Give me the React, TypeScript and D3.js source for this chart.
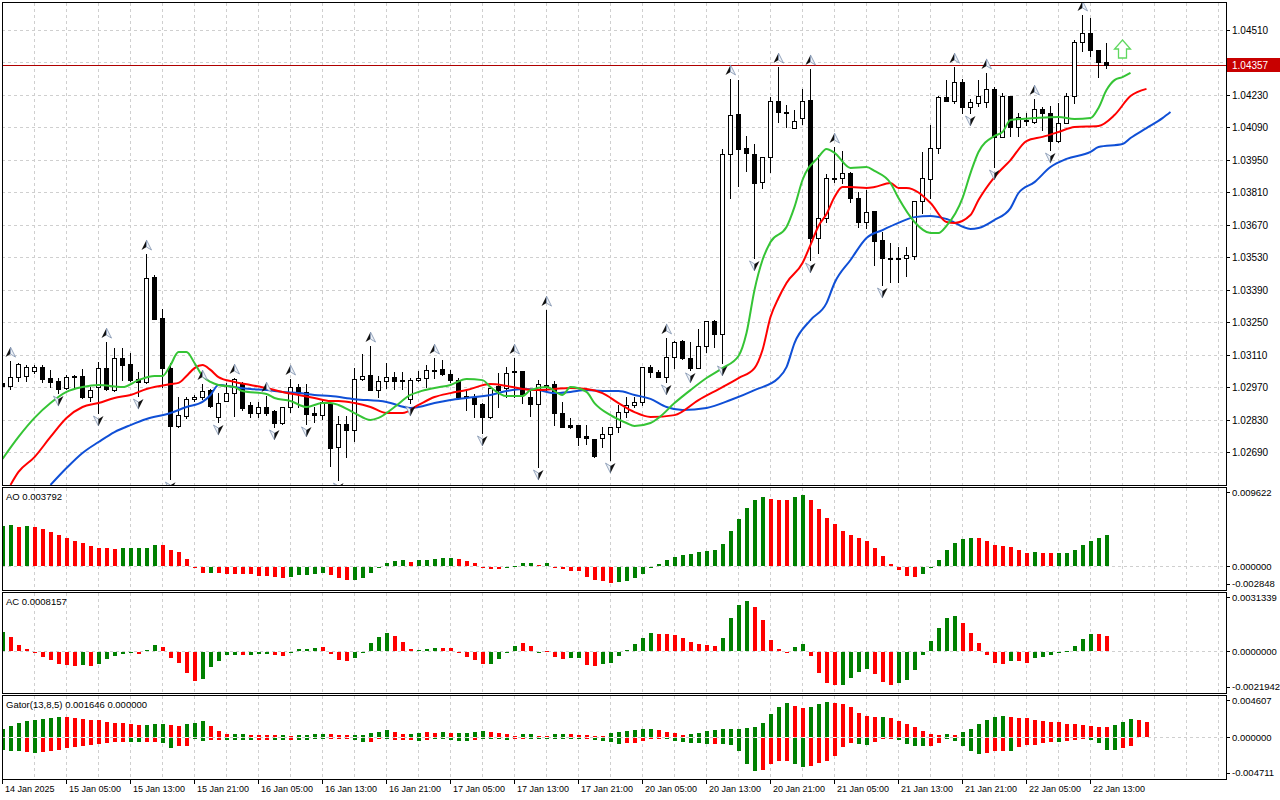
import React, { useEffect, useRef } from 'react';
import * as d3 from 'd3';

// H1 candles, bar 0 = 14 Jan 2025 21:00
const opens = [
  1.02988, 1.02975, 1.03013, 1.03018, 1.03039, 1.03056, 1.03009, 1.02996, 1.02966, 1.03013,
  1.03018, 1.02927, 1.02970, 1.03052, 1.02957, 1.03095, 1.03069, 1.03005, 1.02992, 1.03445,
  1.03268, 1.03052, 1.02802, 1.02845, 1.02919, 1.02927, 1.02957, 1.02841, 1.02910, 1.02944,
  1.02983, 1.02893, 1.02858, 1.02884, 1.02867, 1.02815, 1.02884, 1.02970, 1.02949, 1.02858,
  1.02849, 1.02901, 1.02711, 1.02811, 1.02785, 1.03005, 1.03022, 1.02957, 1.02996, 1.03013,
  1.03000, 1.02919, 1.03000, 1.03009, 1.03044, 1.03048, 1.03026, 1.03000, 1.02931, 1.02927,
  1.02897, 1.02841, 1.02975, 1.02966, 1.03039, 1.03039, 1.02927, 1.02897, 1.02975, 1.02983,
  1.02858, 1.02806, 1.02806, 1.02759, 1.02746, 1.02750, 1.02768, 1.02798, 1.02862, 1.02893,
  1.02906, 1.03056, 1.03035, 1.03013, 1.03100, 1.03169, 1.03095, 1.03052, 1.03147, 1.03255,
  1.03199, 1.03975, 1.04148, 1.04001, 1.03975, 1.03854, 1.03962, 1.04204, 1.04156, 1.04087,
  1.04130, 1.04208, 1.03613, 1.03699, 1.03872, 1.03872, 1.03893, 1.03785, 1.03682, 1.03729,
  1.03604, 1.03527, 1.03527, 1.03527, 1.03535, 1.03772, 1.03867, 1.04001, 1.04221, 1.04204,
  1.04286, 1.04178, 1.04195, 1.04200, 1.04256, 1.04049, 1.04225, 1.04092, 1.04118, 1.04113,
  1.04169, 1.04152, 1.04031, 1.04109, 1.04225, 1.04458, 1.04497, 1.04424, 1.04372,
];
const highs = [
  1.02996, 1.03082, 1.03074, 1.03065, 1.03065, 1.03065, 1.03044, 1.03009, 1.03022, 1.03022,
  1.03048, 1.02970, 1.03078, 1.03164, 1.03138, 1.03138, 1.03117, 1.03035, 1.03544, 1.03453,
  1.03307, 1.03074, 1.02927, 1.02927, 1.02936, 1.02983, 1.02962, 1.02944, 1.02988, 1.03009,
  1.02992, 1.02906, 1.02906, 1.02931, 1.02871, 1.02884, 1.03005, 1.02983, 1.02983, 1.02884,
  1.02914, 1.02906, 1.02845, 1.02845, 1.03052, 1.03113, 1.03147, 1.03018, 1.03074, 1.03035,
  1.03035, 1.03009, 1.03039, 1.03065, 1.03095, 1.03087, 1.03044, 1.03009, 1.02957, 1.02940,
  1.02901, 1.02966, 1.03031, 1.03056, 1.03095, 1.03039, 1.02957, 1.03000, 1.03302, 1.02996,
  1.02906, 1.02837, 1.02806, 1.02806, 1.02746, 1.02798, 1.02798, 1.02893, 1.02927, 1.02927,
  1.03056, 1.03065, 1.03044, 1.03182, 1.03169, 1.03173, 1.03164, 1.03220, 1.03255, 1.03259,
  1.03997, 1.04299, 1.04294, 1.04053, 1.04018, 1.03962, 1.04221, 1.04350, 1.04187, 1.04165,
  1.04256, 1.04342, 1.03971, 1.03889, 1.04005, 1.03988, 1.03898, 1.03811, 1.03820, 1.03729,
  1.03639, 1.03591, 1.03574, 1.03574, 1.03772, 1.03984, 1.04100, 1.04225, 1.04294, 1.04350,
  1.04299, 1.04212, 1.04294, 1.04325, 1.04264, 1.04238, 1.04225, 1.04152, 1.04152, 1.04212,
  1.04178, 1.04182, 1.04195, 1.04238, 1.04467, 1.04575, 1.04562, 1.04424, 1.04454,
];
const lows = [
  1.02966, 1.02962, 1.02996, 1.02996, 1.03031, 1.02992, 1.02970, 1.02944, 1.02962, 1.02970,
  1.02923, 1.02910, 1.02858, 1.02957, 1.02953, 1.03000, 1.02996, 1.02931, 1.02988, 1.03264,
  1.02970, 1.02573, 1.02798, 1.02837, 1.02910, 1.02919, 1.02884, 1.02819, 1.02910, 1.02845,
  1.02871, 1.02841, 1.02841, 1.02849, 1.02798, 1.02811, 1.02862, 1.02884, 1.02811, 1.02819,
  1.02832, 1.02630, 1.02569, 1.02668, 1.02737, 1.03000, 1.02957, 1.02927, 1.02966, 1.02962,
  1.02962, 1.02901, 1.02996, 1.02970, 1.03009, 1.03022, 1.02992, 1.02923, 1.02871, 1.02841,
  1.02772, 1.02837, 1.02884, 1.02927, 1.02927, 1.02901, 1.02845, 1.02625, 1.02957, 1.02806,
  1.02798, 1.02793, 1.02720, 1.02724, 1.02668, 1.02711, 1.02655, 1.02776, 1.02841, 1.02884,
  1.02893, 1.03013, 1.03013, 1.02992, 1.03052, 1.03091, 1.03044, 1.03052, 1.03121, 1.03143,
  1.03074, 1.03785, 1.03837, 1.03902, 1.03527, 1.03829, 1.03898, 1.04113, 1.04092, 1.04087,
  1.04105, 1.03518, 1.03548, 1.03682, 1.03854, 1.03850, 1.03768, 1.03661, 1.03656, 1.03496,
  1.03410, 1.03423, 1.03423, 1.03449, 1.03522, 1.03721, 1.03785, 1.03980, 1.04204, 1.04195,
  1.04152, 1.04152, 1.04182, 1.04178, 1.03919, 1.04049, 1.04053, 1.04053, 1.04100, 1.04109,
  1.04079, 1.03992, 1.04027, 1.04109, 1.04195, 1.04419, 1.04398, 1.04307, 1.04346,
];
const closes = [
  1.02975, 1.03013, 1.03069, 1.03056, 1.03056, 1.03005, 1.02992, 1.02962, 1.03013, 1.03018,
  1.02927, 1.02957, 1.03052, 1.02962, 1.03095, 1.03065, 1.03000, 1.02992, 1.03440, 1.03264,
  1.03052, 1.02802, 1.02849, 1.02919, 1.02927, 1.02953, 1.02888, 1.02901, 1.02944, 1.03005,
  1.02880, 1.02858, 1.02884, 1.02858, 1.02815, 1.02884, 1.02970, 1.02949, 1.02854, 1.02849,
  1.02906, 1.02707, 1.02811, 1.02785, 1.03005, 1.03018, 1.02957, 1.02996, 1.03013, 1.02996,
  1.02998, 1.03000, 1.03009, 1.03044, 1.03041, 1.03026, 1.03000, 1.02927, 1.02927, 1.02897,
  1.02841, 1.02966, 1.02957, 1.03031, 1.03035, 1.02940, 1.02897, 1.02983, 1.02979, 1.02858,
  1.02798, 1.02798, 1.02755, 1.02750, 1.02673, 1.02768, 1.02798, 1.02862, 1.02893, 1.02906,
  1.03056, 1.03035, 1.03013, 1.03100, 1.03164, 1.03095, 1.03052, 1.03147, 1.03255, 1.03199,
  1.03975, 1.04143, 1.03997, 1.03980, 1.03850, 1.03962, 1.04204, 1.04156, 1.04154, 1.04118,
  1.04204, 1.03613, 1.03699, 1.03872, 1.03867, 1.03893, 1.03785, 1.03682, 1.03725, 1.03600,
  1.03527, 1.03522, 1.03522, 1.03540, 1.03772, 1.03872, 1.04001, 1.04221, 1.04204, 1.04286,
  1.04178, 1.04200, 1.04225, 1.04256, 1.04049, 1.04225, 1.04092, 1.04135, 1.04122, 1.04169,
  1.04152, 1.04031, 1.04109, 1.04225, 1.04458, 1.04497, 1.04424, 1.04372, 1.04357,
];

// Alligator lines, [bar, price] (shifted forward past the last bar)
const jaw: [number, number][] = [
  [6, 1.02548], [8, 1.02621], [10, 1.02686], [12, 1.02733], [14, 1.02776], [16, 1.02806], [18, 1.02832],
  [21, 1.02858], [23, 1.02884], [25, 1.02906], [26, 1.02936], [27, 1.02979], [29, 1.02970], [31, 1.02962],
  [33, 1.02957], [35, 1.02949], [37, 1.02944], [39, 1.02936], [41, 1.02931], [44, 1.02918], [48, 1.02906],
  [51, 1.02880], [52, 1.02884], [54, 1.02901], [56, 1.02914], [58, 1.02923], [61, 1.02936], [63, 1.02953],
  [65, 1.02962], [67, 1.02957], [69, 1.02944], [71, 1.02949], [73, 1.02957], [75, 1.02953], [77, 1.02953],
  [79, 1.02936], [81, 1.02919], [83, 1.02884], [85, 1.02871], [88, 1.02880], [91, 1.02914], [94, 1.02957],
  [97, 1.03009], [98, 1.03056], [99, 1.03160], [101, 1.03259], [103, 1.03332], [104, 1.03419], [106, 1.03518],
  [108, 1.03613], [110, 1.03647], [112, 1.03678], [114, 1.03703], [116, 1.03708], [118, 1.03695], [121, 1.03652],
  [122, 1.03656], [124, 1.03691], [126, 1.03742], [127, 1.03807], [129, 1.03854], [131, 1.03919], [133, 1.03954],
  [136, 1.03984], [137, 1.04005], [140, 1.04018], [141, 1.04044], [143, 1.04087], [145, 1.04130], [146, 1.04156],
];
const teeth: [number, number][] = [
  [1, 1.02548], [2, 1.02604], [4, 1.02668], [6, 1.02755], [8, 1.02837], [10, 1.02884], [12, 1.02901],
  [14, 1.02923], [16, 1.02936], [18, 1.02962], [21, 1.02983], [22, 1.02988], [23, 1.03018], [24, 1.03052],
  [25, 1.03065], [26, 1.03044], [27, 1.03013], [29, 1.02992], [31, 1.02979], [33, 1.02966], [35, 1.02949],
  [37, 1.02936], [39, 1.02923], [41, 1.02910], [42, 1.02910], [44, 1.02901], [46, 1.02884], [48, 1.02858],
  [50, 1.02858], [52, 1.02893], [54, 1.02927], [56, 1.02944], [58, 1.02957], [61, 1.02983], [63, 1.02975],
  [65, 1.02962], [67, 1.02957], [69, 1.02962], [71, 1.02966], [73, 1.02962], [75, 1.02944], [77, 1.02901],
  [79, 1.02862], [81, 1.02841], [84, 1.02849], [87, 1.02914], [90, 1.02970], [92, 1.03009], [94, 1.03052],
  [95, 1.03130], [96, 1.03272], [97, 1.03354], [98, 1.03419], [100, 1.03505], [101, 1.03583], [102, 1.03665],
  [103, 1.03716], [104, 1.03790], [105, 1.03833], [106, 1.03833], [108, 1.03829], [109, 1.03833], [111, 1.03850],
  [112, 1.03829], [113, 1.03829], [116, 1.03764], [118, 1.03682], [119, 1.03678], [121, 1.03712], [122, 1.03777],
  [124, 1.03876], [126, 1.03949], [128, 1.04031], [130, 1.04049], [132, 1.04070], [134, 1.04092], [137, 1.04096],
  [139, 1.04143], [141, 1.04225], [143, 1.04256],
];
const lips: [number, number][] = [
  [0, 1.02660], [2, 1.02755], [4, 1.02837], [6, 1.02901], [8, 1.02949], [10, 1.02970], [12, 1.02979],
  [15, 1.02970], [17, 1.03000], [19, 1.03018], [20, 1.03018], [21, 1.03065], [22, 1.03121], [23, 1.03121],
  [24, 1.03074], [25, 1.03018], [26, 1.02992], [27, 1.02979], [29, 1.02970], [30, 1.02953], [33, 1.02940],
  [34, 1.02923], [36, 1.02910], [38, 1.02884], [40, 1.02901], [41, 1.02901], [42, 1.02893], [44, 1.02858],
  [46, 1.02828], [47, 1.02837], [49, 1.02884], [51, 1.02936], [52, 1.02949], [54, 1.02966], [56, 1.02979],
  [58, 1.03005], [60, 1.03000], [61, 1.02970], [63, 1.02931], [65, 1.02931], [66, 1.02957], [68, 1.02970],
  [70, 1.02936], [71, 1.02970], [73, 1.02949], [74, 1.02901], [76, 1.02849], [78, 1.02815], [79, 1.02802],
  [81, 1.02815], [82, 1.02837], [84, 1.02901], [86, 1.02957], [88, 1.03009], [90, 1.03052], [92, 1.03104],
  [93, 1.03203], [94, 1.03389], [95, 1.03518], [96, 1.03596], [98, 1.03660], [99, 1.03747], [100, 1.03863],
  [102, 1.03962], [103, 1.03997], [104, 1.03980], [106, 1.03915], [108, 1.03919], [109, 1.03902], [111, 1.03850],
  [112, 1.03785], [114, 1.03682], [116, 1.03634], [117, 1.03634], [118, 1.03665], [120, 1.03785], [121, 1.03893],
  [122, 1.03984], [124, 1.04053], [125, 1.04070], [126, 1.04122], [129, 1.04130], [132, 1.04135], [134, 1.04126],
  [136, 1.04130], [137, 1.04174], [138, 1.04251], [139, 1.04294], [140, 1.04307], [141, 1.04325],
];

const fractalUp = [1, 13, 18, 25, 29, 33, 36, 46, 54, 64, 68, 83, 91, 97, 101, 104, 119, 123, 129, 135];
const fractalDown = [7, 12, 17, 21, 27, 34, 38, 42, 51, 60, 67, 76, 83, 86, 90, 94, 101, 110, 121, 124, 131];

const aoValues = [
  0.004852, 0.004975, 0.004815, 0.004852, 0.004815, 0.004568, 0.004198, 0.003827, 0.003420, 0.003086,
  0.002840, 0.002469, 0.002222, 0.002222, 0.002099, 0.002222, 0.002222, 0.002222, 0.002222, 0.002593,
  0.002593, 0.001975, 0.001728, 0.000864, -0.000062, -0.000617, -0.000617, -0.000617, -0.000741, -0.000741,
  -0.000741, -0.000741, -0.000988, -0.000988, -0.001111, -0.001235, -0.001111, -0.000864, -0.000864, -0.000741,
  -0.000617, -0.000864, -0.001235, -0.001481, -0.001481, -0.001235, -0.000617, -0.000086, 0.000370, 0.000617,
  0.000741, 0.000494, 0.000741, 0.000741, 0.000864, 0.000988, 0.000988, 0.000864, 0.000617, 0.000370,
  -0.000037, -0.000185, -0.000185, -0.000062, 0.000062, 0.000370, 0.000370, 0.000123, 0.000370, -0.000062,
  -0.000185, -0.000370, -0.000370, -0.001111, -0.001481, -0.001605, -0.001852, -0.001728, -0.001605, -0.001235,
  -0.000741, -0.000062, 0.000247, 0.000741, 0.001111, 0.001358, 0.001481, 0.001728, 0.001852, 0.001975,
  0.002716, 0.004321, 0.005802, 0.007037, 0.008025, 0.008358, 0.008148, 0.008062, 0.008062, 0.008358,
  0.008642, 0.008062, 0.006914, 0.005889, 0.005148, 0.004321, 0.003827, 0.003494, 0.003086, 0.002259,
  0.001235, 0.000247, -0.000333, -0.000988, -0.001111, -0.000741, -0.000062, 0.000741, 0.001975, 0.002802,
  0.003333, 0.003457, 0.003457, 0.003086, 0.002593, 0.002469, 0.002346, 0.001975, 0.001605, 0.001728,
  0.001605, 0.001605, 0.001605, 0.001605, 0.001975, 0.002593, 0.003086, 0.003457, 0.003792,
];
const aoColors =
  'ggrgrrrrrr' + 'rrrrrggggg' + 'rrrrrrgrrr' + 'rrrrrrgggg' + 'grrrgggggg' + 'grgggggrrr' + 'rrrggggrgr' +
  'rrrrrrrggg' + 'gggggggggg' + 'ggggggrrrg' + 'grrrrrrrrr' + 'rrrrrggggg' + 'ggrrrrrrrg' + 'rrggggggg';

const acValues = [
  0.001039, 0.000739, 0.000317, 0.000106, -0.000026, -0.000264, -0.000422, -0.000633, -0.000686, -0.000739,
  -0.000686, -0.000739, -0.000633, -0.000369, -0.000211, -0.000106, -0.000016, -0.000106, 0.000053, 0.000317,
  0.000211, -0.000317, -0.000580, -0.001108, -0.001530, -0.001424, -0.000791, -0.000475, -0.000158, -0.000158,
  -0.000158, -0.000158, -0.000106, -0.000106, -0.000158, -0.000211, -0.000016, 0.000106, 0.000106, 0.000158,
  0.000211, -0.000106, -0.000422, -0.000475, -0.000317, -0.000016, 0.000459, 0.000775, 0.000986, 0.000791,
  0.000475, 0.000106, 0.000053, 0.000106, 0.000158, 0.000158, 0.000158, -0.000026, -0.000264, -0.000422,
  -0.000633, -0.000633, -0.000369, -0.000053, 0.000264, 0.000422, 0.000264, -0.000016, 0.000016, -0.000264,
  -0.000369, -0.000317, -0.000317, -0.000686, -0.000739, -0.000633, -0.000580, -0.000211, 0.000053, 0.000369,
  0.000686, 0.000950, 0.000897, 0.000897, 0.000844, 0.000686, 0.000475, 0.000369, 0.000317, 0.000264,
  0.000686, 0.001741, 0.002427, 0.002638, 0.002321, 0.001635, 0.000580, 0.000106, -0.000026, 0.000211,
  0.000369, -0.000211, -0.001108, -0.001635, -0.001741, -0.001741, -0.001372, -0.001055, -0.000897, -0.001161,
  -0.001583, -0.001741, -0.001635, -0.001477, -0.000950, -0.000158, 0.000528, 0.001213, 0.001741, 0.001846,
  0.001477, 0.000950, 0.000422, -0.000158, -0.000580, -0.000633, -0.000475, -0.000475, -0.000580, -0.000317,
  -0.000264, -0.000158, -0.000026, 0.000016, 0.000264, 0.000633, 0.000897, 0.000897, 0.000816,
];
const acColors =
  'grrrrrrrrr' + 'grgggggrgg' + 'rrrrrggggg' + 'rgggrrgggg' + 'rrrrgggggr' + 'rrgggrrrrr' + 'rggggrrgrr' +
  'rggrrggggg' + 'ggrrrrrrrr' + 'ggggrrrrrg' + 'grrrrggggr' + 'rrgggggggg' + 'rrrrrrgrrg' + 'gggggggrr';

// Gator: upper = |jaw - teeth| (shift 5), lower = -|teeth - lips| (shift 3)
const gatorUp = [
  0.000800, 0.001173, 0.001458, 0.001721, 0.001787, 0.001897, 0.002006, 0.002116, 0.002116, 0.002083,
  0.001973, 0.001831, 0.001787, 0.001644, 0.001535, 0.001458, 0.001348, 0.001283, 0.001283, 0.001348,
  0.001348, 0.001239, 0.001129, 0.001348, 0.001535, 0.001677, 0.001129, 0.000581, 0.000252, 0.000252,
  0.000252, 0.000219, 0.000186, 0.000143, 0.000143, 0.000143, 0.000077, 0.000143, 0.000219, 0.000252,
  0.000252, 0.000252, 0.000143, 0.000143, 0.000143, 0.000143, 0.000362, 0.000548, 0.000735, 0.000471,
  0.000252, 0.000252, 0.000362, 0.000471, 0.000406, 0.000471, 0.000362, 0.000362, 0.000362, 0.000471,
  0.000581, 0.000471, 0.000362, 0.000252, 0.000033, 0.000252, 0.000252, 0.000110, 0.000110, 0.000252,
  0.000252, 0.000252, 0.000143, 0.000143, 0.000110, 0.000033, 0.000362, 0.000471, 0.000581, 0.000691,
  0.000800, 0.000800, 0.000691, 0.000471, 0.000362, 0.000143, 0.000252, 0.000362, 0.000581, 0.000691,
  0.000800, 0.000800, 0.000800, 0.000910, 0.001020, 0.001458, 0.002445, 0.003322, 0.003760, 0.003431,
  0.003212, 0.003322, 0.003651, 0.003870, 0.003760, 0.003651, 0.003322, 0.002664, 0.002225, 0.002116,
  0.002116, 0.002006, 0.001677, 0.001348, 0.001020, 0.000581, 0.000252, 0.000143, 0.000252, 0.000143,
  0.000471, 0.000800, 0.001348, 0.001787, 0.002116, 0.002225, 0.002116, 0.002006, 0.002006, 0.001787,
  0.001677, 0.001568, 0.001568, 0.001348, 0.001348, 0.001239, 0.001129, 0.001020, 0.001020, 0.001239,
  0.001568, 0.001897, 0.001787, 0.001646,
];
const gatorUpColors =
  'ggggggggrr' + 'rrrrrrrrgg' + 'grrgggrrrg' + 'grrrrgrggg' + 'grrrgggggr' + 'rggrrgrggg' + 'grrrrggrrg' +
  'grrrrrgggg' + 'ggrrrrgggg' + 'gggggggggr' + 'rgggrrrrrr' + 'grrrrrrrgr' + 'ggggggrrrr' + 'rrrrrrrrrg' + 'ggrr';
const gatorDown = [
  -0.001392, -0.001458, -0.001458, -0.001568, -0.001677, -0.001568, -0.001458, -0.001392, -0.001206, -0.001020,
  -0.000954, -0.000844, -0.000735, -0.000581, -0.000471, -0.000471, -0.000471, -0.000471, -0.000471, -0.000471,
  -0.000658, -0.001206, -0.000910, -0.000910, -0.000033, -0.000362, -0.000296, -0.000296, -0.000219, -0.000219,
  -0.000219, -0.000219, -0.000219, -0.000219, -0.000219, -0.000219, -0.000219, -0.000219, -0.000219, -0.000110,
  -0.000110, -0.000110, -0.000110, -0.000110, -0.000296, -0.000471, -0.000471, -0.000143, -0.000033, -0.000296,
  -0.000296, -0.000296, -0.000406, -0.000296, -0.000186, -0.000186, -0.000296, -0.000406, -0.000406, -0.000296,
  -0.000110, -0.000110, -0.000110, -0.000296, -0.000186, -0.000110, -0.000110, -0.000110, -0.000110, -0.000110,
  -0.000110, -0.000110, -0.000110, -0.000110, -0.000296, -0.000406, -0.000515, -0.000735, -0.000625, -0.000625,
  -0.000406, -0.000110, -0.000110, -0.000110, -0.000406, -0.000515, -0.000625, -0.000625, -0.000735, -0.000735,
  -0.000735, -0.000844, -0.001502, -0.002927, -0.003760, -0.003585, -0.002927, -0.002598, -0.002598, -0.002927,
  -0.003256, -0.003146, -0.002817, -0.002598, -0.002050, -0.001063, -0.000625, -0.000735, -0.000844, -0.000515,
  -0.000033, -0.000033, -0.000296, -0.000735, -0.000910, -0.000910, -0.000910, -0.000625, -0.000186, -0.000406,
  -0.000910, -0.001502, -0.001787, -0.001677, -0.001502, -0.001502, -0.001502, -0.001063, -0.000844, -0.000844,
  -0.000625, -0.000515, -0.000515, -0.000406, -0.000296, -0.000110, -0.000296, -0.000625, -0.001348, -0.001348,
  -0.001129, -0.000910,
];
const gatorDownColors =
  'gggrgrrrrr' + 'rrrrrrggrr' + 'ggrrggrrgg' + 'ggrrggrggg' + 'grrrggrrgr' + 'rrgrgggggr' + 'ggggrrgggg' +
  'gggrggggrr' + 'rrrggggggr' + 'gggggrrrrg' + 'grrrrrrggr' + 'rrggggrrgg' + 'gggrrrgrrr' + 'rrgrrrgggg' + 'rr';

const timeLabels = [
  '14 Jan 2025', '15 Jan 05:00', '15 Jan 13:00', '15 Jan 21:00', '16 Jan 05:00', '16 Jan 13:00',
  '16 Jan 21:00', '17 Jan 05:00', '17 Jan 13:00', '17 Jan 21:00', '20 Jan 05:00', '20 Jan 13:00',
  '20 Jan 21:00', '21 Jan 05:00', '21 Jan 13:00', '21 Jan 21:00', '22 Jan 05:00', '22 Jan 13:00',
];
const priceTicks = [
  1.0451, 1.0437, 1.0423, 1.0409, 1.0395, 1.0381, 1.0367, 1.0353, 1.0339, 1.0325, 1.0311, 1.0297, 1.0283, 1.0269,
];
const lastPrice = 1.04357;
const signal = { bar: 140, price: 1.04428 };

const GREEN = '#008000';
const RED = '#ff0000';
const LEFT = 2;
const RIGHT = 1226;

interface Pane {
  top: number;
  bottom: number;
  min: number;
  max: number;
  name: string;
  labels: string[];
}

const panes: Pane[] = [
  { top: 487, bottom: 590, min: -0.002848, max: 0.009622, name: 'AO 0.003792', labels: ['0.009622', '0.000000', '-0.002848'] },
  { top: 592, bottom: 693, min: -0.0021942, max: 0.0031339, name: 'AC 0.0008157', labels: ['0.0031339', '0.0000000', '-0.0021942'] },
  { top: 695, bottom: 779, min: -0.004711, max: 0.004607, name: 'Gator(13,8,5) 0.001646 0.000000', labels: ['0.004607', '0.000000', '-0.004711'] },
];

export default function App() {
  const svgRef = useRef<SVGSVGElement>(null);

  useEffect(() => {
    if (!svgRef.current) return;
    const svg = d3.select(svgRef.current);
    svg.selectAll('*').remove();

    const font = "'Liberation Sans', Arial, sans-serif";
    const x = d3.scaleLinear().domain([0, 1]).range([LEFT, LEFT + 8]);
    const y = d3.scaleLinear().domain([1.0269, 1.0451]).range([452, 30]);
    const px = (i: number) => x(i) + 0.5;

    const defs = svg.append('defs');
    const clip = (id: string, top: number, bottom: number) =>
      defs.append('clipPath').attr('id', id).append('rect')
        .attr('x', LEFT + 1).attr('y', top + 1).attr('width', RIGHT - LEFT - 1).attr('height', bottom - top - 1);
    clip('c-main', 2, 485);
    panes.forEach((p, k) => clip(`c-p${k}`, p.top, p.bottom));

    // grid
    const grid = svg.append('g').attr('stroke', '#cfcfcf').attr('stroke-dasharray', '3,3')
      .attr('shape-rendering', 'crispEdges');
    const vLines = d3.range(4, 153, 4);
    const spans = [[2, 485], ...panes.map(p => [p.top, p.bottom])];
    spans.forEach(([t, b]) => {
      grid.selectAll(null).data(vLines).enter().append('line')
        .attr('x1', d => px(d)).attr('x2', d => px(d)).attr('y1', t + 1).attr('y2', b);
    });
    grid.selectAll(null).data(priceTicks).enter().append('line')
      .attr('x1', LEFT).attr('x2', RIGHT)
      .attr('y1', d => Math.round(y(d)) + 0.5).attr('y2', d => Math.round(y(d)) + 0.5);

    // main pane
    const main = svg.append('g').attr('clip-path', 'url(#c-main)');
    main.append('line').attr('x1', LEFT).attr('x2', RIGHT)
      .attr('y1', Math.round(y(lastPrice)) + 0.5).attr('y2', Math.round(y(lastPrice)) + 0.5)
      .attr('stroke', '#b00000').attr('stroke-width', 1);

    const candles = opens.map((o, i) => ({ i, o, h: highs[i], l: lows[i], c: closes[i] }));
    main.append('g').selectAll('line').data(candles).enter().append('line')
      .attr('x1', d => px(d.i)).attr('x2', d => px(d.i))
      .attr('y1', d => Math.round(y(d.h))).attr('y2', d => Math.round(y(d.l)) + 1)
      .attr('stroke', '#000').attr('shape-rendering', 'crispEdges');
    const bodies = main.append('g');
    candles.forEach(d => {
      const yt = Math.round(y(Math.max(d.o, d.c)));
      const yb = Math.round(y(Math.min(d.o, d.c)));
      if (yb - yt < 1) {
        bodies.append('line').attr('x1', x(d.i) - 2).attr('x2', x(d.i) + 3)
          .attr('y1', yt + 0.5).attr('y2', yt + 0.5).attr('stroke', '#000').attr('shape-rendering', 'crispEdges');
      } else {
        bodies.append('rect').attr('x', x(d.i) - 1.5).attr('y', yt + 0.5)
          .attr('width', 4).attr('height', yb - yt)
          .attr('fill', d.c >= d.o ? '#fff' : '#000').attr('stroke', '#000')
          .attr('shape-rendering', 'crispEdges');
      }
    });

    const line = d3.line<[number, number]>().x(d => px(d[0])).y(d => y(d[1])).curve(d3.curveMonotoneX);
    [[jaw, '#0f4fd6'], [teeth, '#ff0000'], [lips, '#35c435']].forEach(([data, col]) => {
      main.append('path').datum(data as [number, number][]).attr('d', line)
        .attr('fill', 'none').attr('stroke', col as string).attr('stroke-width', 2).attr('stroke-linejoin', 'round');
    });

    // fractal markers
    const arrows = main.append('g');
    fractalUp.forEach(i => {
      const cx = px(i), cy = y(highs[i]) - 9;
      arrows.append('path').attr('d', `M${cx},${cy - 5}L${cx - 5},${cy + 5}L${cx},${cy + 2}Z`).attr('fill', '#111');
      arrows.append('path').attr('d', `M${cx},${cy - 5}L${cx + 5},${cy + 5}L${cx},${cy + 2}Z`)
        .attr('fill', '#eef2f7').attr('stroke', '#7d90ad').attr('stroke-width', 0.8);
    });
    fractalDown.forEach(i => {
      const cx = px(i), cy = y(lows[i]) + 8;
      arrows.append('path').attr('d', `M${cx},${cy + 5}L${cx - 5},${cy - 5}L${cx},${cy - 2}Z`)
        .attr('fill', '#eef2f7').attr('stroke', '#7d90ad').attr('stroke-width', 0.8);
      arrows.append('path').attr('d', `M${cx},${cy + 5}L${cx + 5},${cy - 5}L${cx},${cy - 2}Z`).attr('fill', '#111');
    });

    // buy signal arrow
    const sx = px(signal.bar), sy = y(signal.price);
    main.append('path')
      .attr('d', `M${sx},${sy - 9}L${sx + 8},${sy}L${sx + 4},${sy}L${sx + 4},${sy + 9}L${sx - 4},${sy + 9}L${sx - 4},${sy}L${sx - 8},${sy}Z`)
      .attr('fill', '#fff').attr('stroke', '#5fd85f').attr('stroke-width', 1.3);

    // indicator panes
    const series = [
      [{ v: aoValues, c: aoColors }],
      [{ v: acValues, c: acColors }],
      [{ v: gatorUp, c: gatorUpColors }, { v: gatorDown, c: gatorDownColors }],
    ];
    panes.forEach((p, k) => {
      const sy2 = d3.scaleLinear().domain([p.min, p.max]).range([p.bottom, p.top]);
      const y0 = Math.round(sy2(0));
      const g = svg.append('g').attr('clip-path', `url(#c-p${k})`);
      g.append('line').attr('x1', LEFT).attr('x2', RIGHT).attr('y1', y0 + 0.5).attr('y2', y0 + 0.5)
        .attr('stroke', '#cfcfcf').attr('stroke-dasharray', '3,3');
      series[k].forEach(s => {
        g.append('g').selectAll('rect').data(s.v).enter().append('rect')
          .attr('x', (_, i) => x(i) - 1)
          .attr('width', 4)
          .attr('y', d => (d >= 0 ? Math.round(sy2(d)) : y0 + 1))
          .attr('height', d => Math.max(1, d >= 0 ? y0 - Math.round(sy2(d)) : Math.round(sy2(d)) - y0))
          .attr('fill', (_, i) => (s.c[i] === 'g' ? GREEN : RED))
          .attr('shape-rendering', 'crispEdges');
      });
      svg.append('text').attr('x', 6).attr('y', p.top + 13).text(p.name)
        .attr('font-family', font).attr('font-size', 9.5).attr('fill', '#000');
      const lab = svg.append('g').attr('font-family', font).attr('font-size', 9.5).attr('fill', '#000');
      const ly = [p.top + 9, y0 + 3.5, p.bottom - 3];
      const ty = [p.top + 5, y0, p.bottom - 6];
      p.labels.forEach((t, j) => {
        lab.append('text').attr('x', 1232).attr('y', ly[j]).text(t);
        lab.append('line').attr('x1', RIGHT).attr('x2', RIGHT + 4).attr('y1', ty[j] + 0.5).attr('y2', ty[j] + 0.5)
          .attr('stroke', '#000');
      });
    });

    // frames
    const frames = svg.append('g').attr('fill', 'none').attr('stroke', '#000').attr('shape-rendering', 'crispEdges');
    [[2, 485], ...panes.map(p => [p.top, p.bottom])].forEach(([t, b]) => {
      frames.append('rect').attr('x', LEFT + 0.5).attr('y', t + 0.5).attr('width', RIGHT - LEFT).attr('height', b - t);
    });

    // price axis; the tick label under the bid tag stays hidden
    const axis = svg.append('g').attr('font-family', font).attr('font-size', 10).attr('fill', '#000');
    const ly = Math.round(y(lastPrice));
    priceTicks.forEach(p => {
      const yy = Math.round(y(p));
      axis.append('line').attr('x1', RIGHT).attr('x2', RIGHT + 4).attr('y1', yy + 0.5).attr('y2', yy + 0.5)
        .attr('stroke', '#000');
      if (Math.abs(yy - ly) > 12) axis.append('text').attr('x', 1232).attr('y', yy + 3.5).text(p.toFixed(5));
    });
    axis.append('rect').attr('x', RIGHT + 1).attr('y', ly - 7).attr('width', 1280 - RIGHT - 1).attr('height', 14)
      .attr('fill', '#c80000');
    axis.append('text').attr('x', 1232).attr('y', ly + 3.5).attr('fill', '#fff').text(lastPrice.toFixed(5));

    // time axis
    const tg = svg.append('g').attr('font-family', font).attr('font-size', 9).attr('fill', '#000');
    timeLabels.forEach((t, k) => {
      const xx = px(k * 8);
      tg.append('line').attr('x1', xx).attr('x2', xx).attr('y1', 779).attr('y2', 784).attr('stroke', '#000');
      tg.append('text').attr('x', xx + 2.5).attr('y', 792).text(t);
    });
  }, []);

  return (
    <svg
      ref={svgRef}
      width={1280}
      height={800}
      viewBox="0 0 1280 800"
      style={{ position: 'absolute', left: 0, top: 0, background: '#fff' }}
    />
  );
}
